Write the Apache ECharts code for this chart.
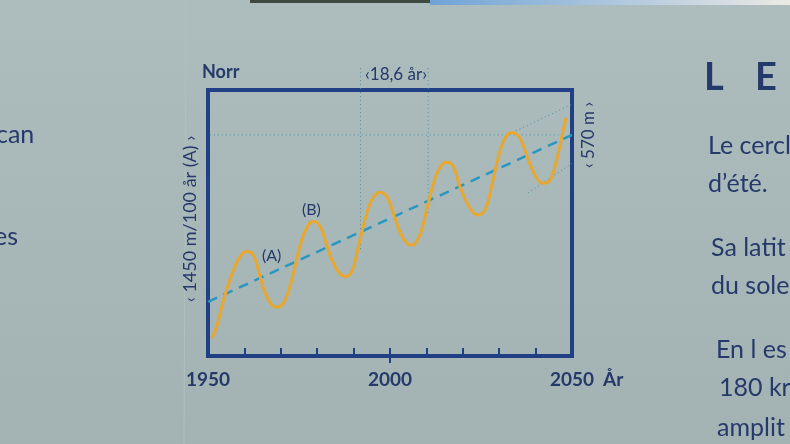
<!DOCTYPE html>
<html>
<head>
<meta charset="utf-8">
<title>Norr - 18,6 år</title>
<script src="https://cdn.jsdelivr.net/npm/echarts@6/dist/echarts.min.js"></script>
<style>
  html, body { margin: 0; padding: 0; }
  #chart { width: 790px; height: 444px; }
</style>
</head>
<body>
<div id="chart"></div>
<script>
// läge mot norr (m) per år, avläst ur skylten
var curveYears = [1951.0, 1952.4, 1953.8, 1955.1, 1957.0, 1958.8, 1960.6, 1962.4, 1964.3, 1965.7,
  1967.5, 1968.9, 1970.7, 1972.5, 1973.9, 1975.7, 1977.6, 1978.9, 1980.8, 1982.6,
  1984.4, 1986.3, 1987.6, 1989.5, 1991.3, 1993.1, 1995.0, 1997.1, 1999.1, 2000.9,
  2002.7, 2004.6, 2006.1, 2008.2, 2010.5, 2012.4, 2014.2, 2015.6, 2017.4, 2019.2,
  2021.5, 2024.0, 2026.1, 2027.9, 2029.8, 2031.6, 2033.4, 2035.7, 2038.0, 2040.3,
  2042.1, 2044.0, 2045.8, 2047.6, 2048.4];
var curveMeters = [-315, -214, -41, 104, 278, 393, 437, 408, 220, 76,
  -26, -46, -11, 133, 306, 538, 669, 697, 653, 495,
  336, 243, 220, 263, 480, 712, 886, 953, 914, 770,
  610, 510, 495, 582, 857, 1074, 1190, 1213, 1175, 1001,
  842, 755, 799, 1001, 1262, 1421, 1470, 1421, 1233, 1074,
  1031, 1059, 1233, 1493, 1598];

// medeltrend 1450 m / 100 år
var trendYears = [1950, 2050];
var trendMeters = [0, 1450];

// periodmarkering 18,6 år
var cycleYears = [1991.9, 2010.5];
var cycleTop = 2030;
var cycleBottoms = [434, 755];

// hjälplinjer för 1450 m-måttet
var rateTopLine = [[1945.0, 1450], [2046.3, 1450]];
var rateBottomLine = [[1943.6, 0], [1950, 0]];

// hjälplinjer för amplituden 570 m
var ampUpperLine = [[2031.6, 1441], [2056.9, 1819]];
var ampLowerLine = [[2037.9, 946], [2056.3, 1337]];

var xTickLabels = [1950, 2000, 2050];
var minorTicks = [1960, 1970, 1980, 1990, 2000, 2010, 2020, 2030, 2040];
var majorTicks = [2000];

var navy = '#25396b';
var frame = '#213f85';
var guide = '#4f8ea2';

function zip(xs, ys) {
  return xs.map(function (x, i) { return [x, ys[i]]; });
}

function guideSeries(data) {
  return {
    type: 'line',
    data: data,
    clip: false,
    silent: true,
    symbol: 'none',
    z: 1,
    lineStyle: { color: guide, width: 1, type: [1, 3] }
  };
}

var chart = echarts.init(document.getElementById('chart'));

var series = [
  guideSeries(rateTopLine),
  guideSeries(rateBottomLine),
  guideSeries(ampUpperLine),
  guideSeries(ampLowerLine)
];
cycleYears.forEach(function (yr, i) {
  series.push(guideSeries([[yr, cycleTop], [yr, cycleBottoms[i]]]));
});
series.push({
  name: 'trend',
  type: 'line',
  data: zip(trendYears, trendMeters),
  symbol: 'none',
  z: 3,
  lineStyle: { color: '#2a97c0', width: 2.5, type: [10, 7] }
});
series.push({
  name: 'läge',
  type: 'line',
  data: zip(curveYears, curveMeters),
  smooth: 0.4,
  symbol: 'none',
  z: 4,
  lineStyle: { color: '#e8a82e', width: 3 }
});

function txt(x, y, s, size, weight, align, rot) {
  return {
    type: 'text',
    x: x,
    y: y,
    rotation: rot || 0,
    silent: true,
    style: {
      text: s,
      fill: navy,
      font: (weight || 'normal') + ' ' + size + 'px Lato, sans-serif',
      textAlign: align || 'left',
      textVerticalAlign: 'middle'
    }
  };
}

chart.setOption({
  backgroundColor: {
    type: 'linear', x: 0, y: 0, x2: 0, y2: 1,
    colorStops: [{ offset: 0, color: '#adbcbd' }, { offset: 1, color: '#a3b3b3' }]
  },
  animation: false,
  grid: {
    left: 208, top: 90, width: 364, height: 266,
    show: true, borderColor: frame, borderWidth: 4, backgroundColor: 'transparent'
  },
  xAxis: [{
    type: 'value',
    min: 1950, max: 2050, interval: 10,
    axisLine: { show: false, onZero: false },
    splitLine: { show: false },
    axisTick: { customValues: minorTicks, inside: true, length: 8, lineStyle: { color: frame, width: 2 } },
    axisLabel: {
      customValues: xTickLabels,
      formatter: function (v) { return String(v); },
      margin: 14,
      color: navy,
      fontSize: 19,
      fontWeight: 'bold',
      fontFamily: 'Lato, sans-serif'
    }
  }, {
    type: 'value',
    min: 1950, max: 2050,
    position: 'bottom',
    axisLine: { show: false, onZero: false },
    splitLine: { show: false },
    axisLabel: { show: false },
    axisTick: { customValues: majorTicks, inside: false, length: 7, lineStyle: { color: frame, width: 2 } }
  }],
  yAxis: {
    type: 'value',
    min: -470, max: 1840,
    axisLine: { show: false },
    axisTick: { show: false },
    axisLabel: { show: false },
    splitLine: { show: false }
  },
  series: series,
  graphic: [
    // himmel och skarv i fotots överkant
    { type: 'rect', silent: true, shape: { x: 250, y: 0, width: 180, height: 3 }, style: { fill: '#3e4a40' } },
    { type: 'rect', silent: true, shape: { x: 430, y: 0, width: 360, height: 5 },
      style: { fill: { type: 'linear', x: 0, y: 0, x2: 1, y2: 0,
        colorStops: [{ offset: 0, color: '#6fa3d6' }, { offset: 0.6, color: '#b9cde0' }, { offset: 1, color: '#eceae4' }] } } },
    { type: 'line', silent: true, shape: { x1: 186, y1: 0, x2: 184, y2: 444 }, style: { stroke: '#b1bfbf', lineWidth: 1 } },
    txt(202, 72, 'Norr', 18, 'bold'),
    txt(396, 75, '‹18,6 år›', 17, 'normal', 'center'),
    txt(190, 219, '‹ 1450 m/100 år (A) ›', 18, 'normal', 'center', Math.PI / 2),
    txt(589, 135, '‹ 570 m ›', 17, 'normal', 'center', Math.PI / 2),
    txt(262, 256, '(A)', 16),
    txt(302, 210, '(B)', 16),
    txt(603, 380, 'År', 19, 'bold'),
    txt(704, 78, 'L', 38, 'bold'),
    txt(755, 78, 'E', 38, 'bold'),
    txt(708, 146, 'Le cercl', 25),
    txt(708, 184, 'd’été.', 25),
    txt(711, 248, 'Sa latit', 25),
    txt(711, 286, 'du sole', 25),
    txt(716, 350, 'En l es', 25),
    txt(719, 388, '180 kr', 25),
    txt(717, 428, 'amplit', 25),
    txt(-4, 135, 'can', 25),
    txt(-6, 237, 'es', 25)
  ]
});
</script>
</body>
</html>
